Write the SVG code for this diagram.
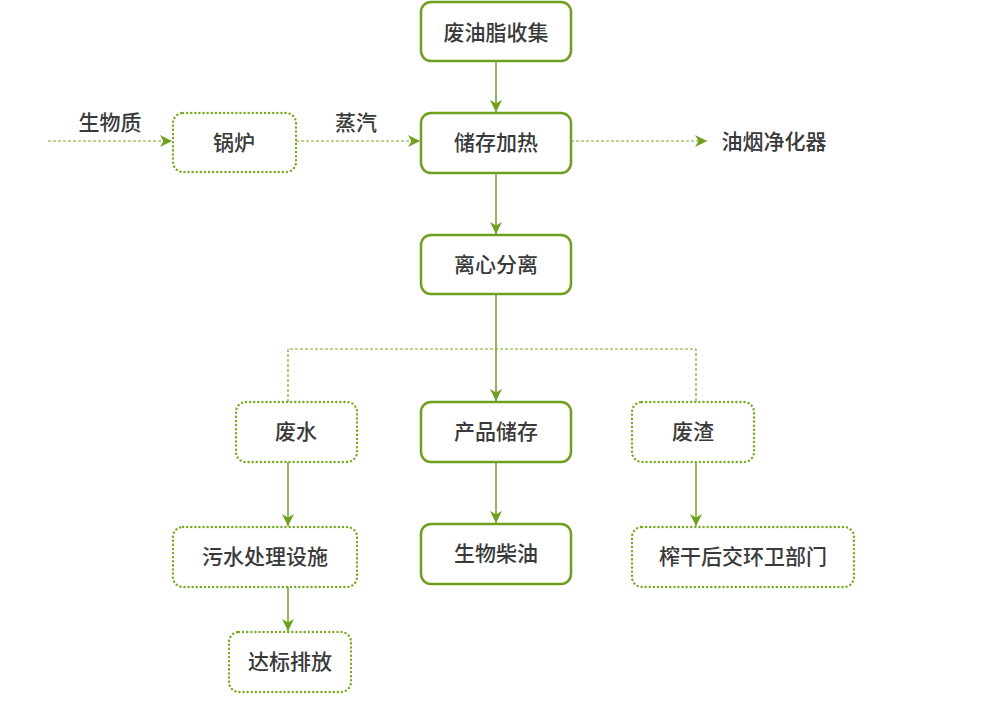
<svg xmlns="http://www.w3.org/2000/svg" width="1000" height="702" viewBox="0 0 1000 702">
<style>
.solid{fill:#fff;stroke:#6e9f1e;stroke-width:2.5}
.dot{fill:#fff;stroke:#7aaa22;stroke-width:2.4;stroke-dasharray:0.1 4;stroke-linecap:round}
.t{font-family:"Noto Sans CJK SC","Noto Sans",sans-serif;font-size:21px;font-weight:500;fill:#3a3a3a;text-anchor:middle;dominant-baseline:central}
.ln{fill:none;stroke:#6e9f1e;stroke-width:1.5}
.dl{fill:none;stroke:#7aaa22;stroke-width:1.2;stroke-dasharray:3 2}
</style>
<defs>
<marker id="ah" viewBox="0 0 12 12" refX="12" refY="6" markerWidth="12" markerHeight="12" markerUnits="userSpaceOnUse" orient="auto">
<path d="M0,0 L12,6 L0,12 L3.5,6 Z" fill="#6e9f1e"/>
</marker>
</defs>
<rect width="1000" height="702" fill="#fff"/>
<g id="connectors">
<line class="dl" x1="48" y1="141" x2="172" y2="141" marker-end="url(#ah)"/>
<line class="dl" x1="296" y1="141" x2="420" y2="141" marker-end="url(#ah)"/>
<line class="dl" x1="571" y1="141" x2="707" y2="141" marker-end="url(#ah)"/>
<line class="ln" x1="496" y1="61" x2="496" y2="112" marker-end="url(#ah)"/>
<line class="ln" x1="496" y1="173" x2="496" y2="234" marker-end="url(#ah)"/>
<line class="ln" x1="496" y1="294" x2="496" y2="401" marker-end="url(#ah)"/>
<polyline class="dl" points="288,402 288,349 696,349 696,402"/>
<line class="ln" x1="288" y1="462" x2="288" y2="526" marker-end="url(#ah)"/>
<line class="ln" x1="496" y1="462" x2="496" y2="523" marker-end="url(#ah)"/>
<line class="ln" x1="696" y1="462" x2="696" y2="526" marker-end="url(#ah)"/>
<line class="ln" x1="288" y1="587" x2="288" y2="631" marker-end="url(#ah)"/>
<text class="t" x="110" y="121">生物质</text>
<text class="t" x="356" y="121">蒸汽</text>
<text class="t" x="774" y="140">油烟净化器</text>
</g>
<g id="n1"><rect class="solid" x="421" y="2" width="150" height="59" rx="10"/><text class="t" x="496" y="31">废油脂收集</text></g>
<g id="n2"><rect class="solid" x="421" y="113" width="150" height="60" rx="10"/><text class="t" x="496" y="141">储存加热</text></g>
<g id="n3"><rect class="solid" x="421" y="235" width="150" height="59" rx="10"/><text class="t" x="496" y="263">离心分离</text></g>
<g id="n4"><rect class="solid" x="421" y="402" width="150" height="60" rx="10"/><text class="t" x="496" y="430">产品储存</text></g>
<g id="n5"><rect class="solid" x="421" y="524" width="150" height="60" rx="10"/><text class="t" x="496" y="552">生物柴油</text></g>
<g id="boiler"><rect class="dot" x="173" y="113" width="123" height="59" rx="10"/><text class="t" x="234" y="141">锅炉</text></g>
<g id="water"><rect class="dot" x="236" y="402" width="121" height="60" rx="10"/><text class="t" x="296" y="430">废水</text></g>
<g id="residue"><rect class="dot" x="632" y="402" width="122" height="60" rx="10"/><text class="t" x="693" y="430">废渣</text></g>
<g id="treat"><rect class="dot" x="173" y="527" width="184" height="60" rx="10"/><text class="t" x="265" y="555">污水处理设施</text></g>
<g id="discharge"><rect class="dot" x="229" y="632" width="122" height="60" rx="10"/><text class="t" x="290" y="660">达标排放</text></g>
<g id="sanit"><rect class="dot" x="632" y="527" width="222" height="60" rx="10"/><text class="t" x="743" y="555">榨干后交环卫部门</text></g>
</svg>
